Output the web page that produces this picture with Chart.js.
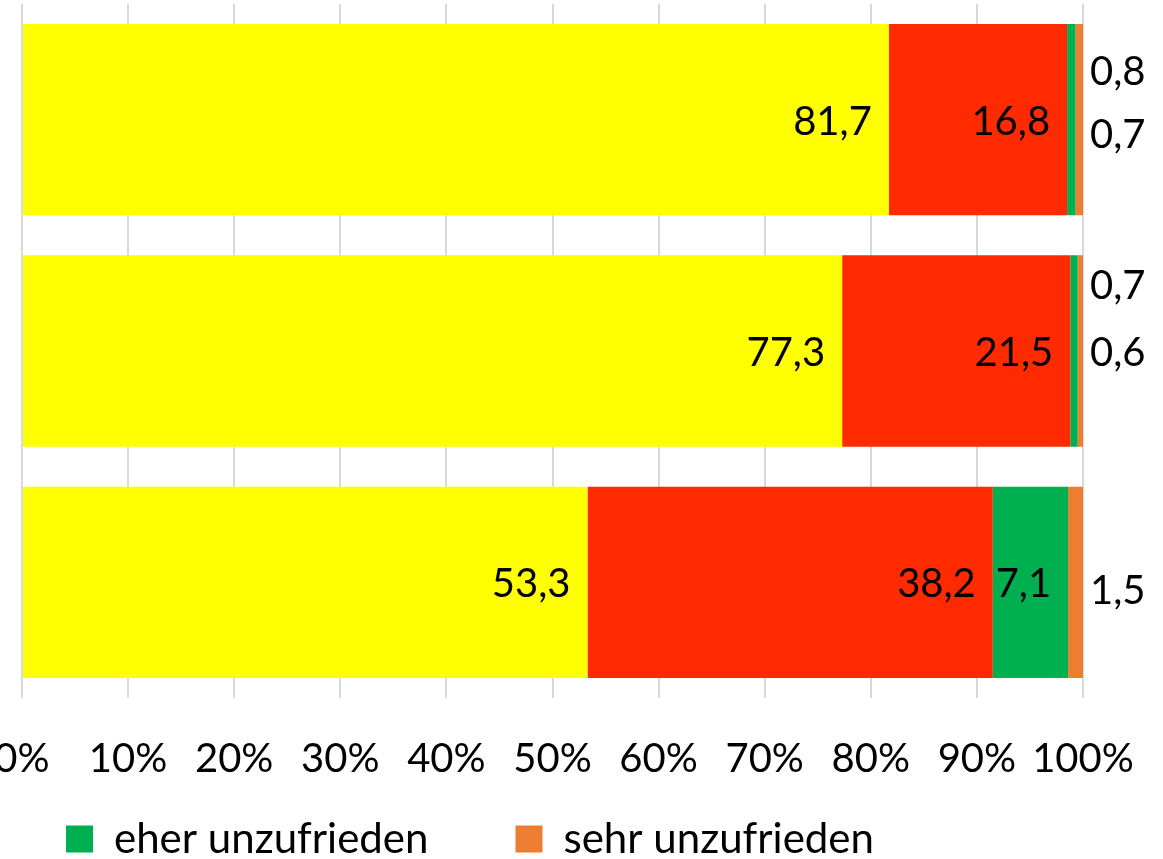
<!DOCTYPE html>
<html lang="de">
<head>
    <meta charset="UTF-8">
    <title>Zufriedenheit</title>
    <script src="https://cdn.jsdelivr.net/npm/chart.js"></script>
    <style>
        html, body {
            margin: 0;
            padding: 0;
            width: 1163px;
            height: 859px;
            overflow: hidden;
            background: #ffffff;
        }

        #wrap {
            position: absolute;
            left: -8px;
            top: 0;
        }
    </style>
</head>
<body>
    <div id="wrap">
        <canvas id="chart" width="1171" height="870"></canvas>
    </div>

    <script>
        // data
        const groups = ['Gruppe 1', 'Gruppe 2', 'Gruppe 3'];
        const sehrZufrieden = [81.7, 77.3, 53.3];
        const eherZufrieden = [16.8, 21.5, 38.2];
        const eherUnzufrieden = [0.8, 0.7, 7.1];
        const sehrUnzufrieden = [0.7, 0.6, 1.5];
        const xTicks = [0, 10, 20, 30, 40, 50, 60, 70, 80, 90, 100];

        // small labels sit right of the bars, nudged up/down like in the original
        const outsideNudge = {
            2: [-50, -67, 0],
            3: [13, 0, 7]
        };

        const FONT = 'Lato';

        const valueLabels = {
            id: 'valueLabels',
            afterDatasetsDraw(chart) {
                const ctx = chart.ctx;
                const area = chart.chartArea;
                ctx.save();
                ctx.font = '40px ' + FONT;
                ctx.fillStyle = '#000000';
                ctx.textBaseline = 'middle';
                chart.data.datasets.forEach((ds, i) => {
                    const meta = chart.getDatasetMeta(i);
                    meta.data.forEach((bar, j) => {
                        const v = ds.data[j];
                        const txt = v.toFixed(1).replace('.', ',');
                        if (v >= 3) {
                            ctx.textAlign = 'right';
                            ctx.fillText(txt, bar.x - 17, bar.y + 2);
                        } else {
                            const dy = (outsideNudge[i] || [])[j] || 0;
                            ctx.textAlign = 'left';
                            ctx.fillText(txt, area.right + 7, bar.y + dy + 2);
                        }
                    });
                });
                ctx.restore();
            }
        };

        const ctx = document.getElementById('chart').getContext('2d');
        new Chart(ctx, {
            type: 'bar',
            data: {
                labels: groups,
                datasets: [
                    { label: 'sehr zufrieden', data: sehrZufrieden, backgroundColor: '#FFFF00' },
                    { label: 'eher zufrieden', data: eherZufrieden, backgroundColor: '#FF2A00' },
                    { label: 'eher unzufrieden', data: eherUnzufrieden, backgroundColor: '#00B050' },
                    { label: 'sehr unzufrieden', data: sehrUnzufrieden, backgroundColor: '#ED7D31' }
                ]
            },
            options: {
                indexAxis: 'y',
                responsive: false,
                animation: false,
                devicePixelRatio: 1,
                datasets: {
                    bar: {
                        categoryPercentage: 1,
                        barPercentage: 0.827,
                        borderWidth: 0
                    }
                },
                layout: {
                    padding: { left: 0, right: 80, top: 4, bottom: 0 }
                },
                scales: {
                    x: {
                        stacked: true,
                        min: 0,
                        max: 100,
                        afterBuildTicks(scale) {
                            scale.ticks = xTicks.map(v => ({ value: v }));
                        },
                        afterFit(scale) {
                            scale.height = 76;
                        },
                        grid: {
                            color: '#D9D9D9',
                            lineWidth: 2,
                            drawTicks: false
                        },
                        border: { display: false },
                        ticks: {
                            autoSkip: false,
                            maxRotation: 0,
                            padding: 0,
                            color: '#000000',
                            font: { family: FONT, size: 40, lineHeight: 3.05 },
                            callback: v => v + '%'
                        }
                    },
                    y: {
                        stacked: true,
                        afterFit(scale) {
                            scale.width = 30;
                        },
                        grid: { display: false },
                        border: { display: false },
                        ticks: { display: false }
                    }
                },
                plugins: {
                    legend: {
                        position: 'bottom',
                        align: 'start',
                        fullSize: false,
                        labels: {
                            boxWidth: 27,
                            boxHeight: 27,
                            padding: 44,
                            color: '#000000',
                            font: { family: FONT, size: 42 },
                            generateLabels(chart) {
                                const items = Chart.defaults.plugins.legend.labels.generateLabels(chart);
                                // only the two "unzufrieden" entries are shown; widen the gap after the first
                                return items
                                    .filter(item => item.datasetIndex >= 2)
                                    .map((item, k) => {
                                        if (k === 0) item.text = item.text + '    ';
                                        return item;
                                    });
                            }
                        }
                    },
                    tooltip: { enabled: false }
                }
            },
            plugins: [valueLabels]
        });
    </script>
</body>
</html>
